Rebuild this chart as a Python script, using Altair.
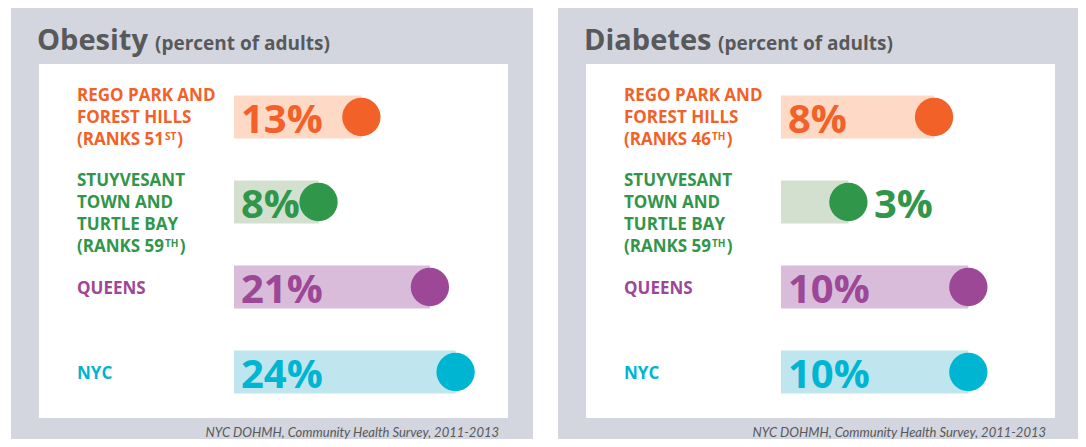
import altair as alt
import pandas as pd

# ---------------- data ----------------
categories = ["rego", "stuy", "queens", "nyc"]
label_lines = {
    "rego": ["REGO PARK AND", "FOREST HILLS"],
    "stuy": ["STUYVESANT", "TOWN AND", "TURTLE BAY"],
    "queens": ["QUEENS"],
    "nyc": ["NYC"],
}
panel_titles = ["Obesity", "Diabetes"]
panel_subtitle = "(percent of adults)"
obesity_values = [13, 8, 21, 24]
diabetes_values = [8, 3, 10, 10]
obesity_ranks = {"rego": 51, "stuy": 59}
diabetes_ranks = {"rego": 46, "stuy": 59}
source_text = "NYC DOHMH, Community Health Survey, 2011-2013"
x_domains = {"Obesity": [0, 30], "Diabetes": [0, 15]}

# ---------------- style ----------------
FONT = "Open Sans"
SRC_FONT = "Lato, Open Sans"
strong = ["#f26128", "#30964a", "#9d4797", "#00b5d2"]
light = ["#fdd9c6", "#d3e0cf", "#d8bcd9", "#bfe5ee"]
GRAY = "#d3d6de"
TITLE_C = "#58595b"

PANEL_H = 431
PANEL_W = [522, 520]
BAR_START, BAR_END = 223, 480
BAR_H = 43
CIRCLE_SIZE = 1470
CIRCLE_R = 21.6
END_OFF = 16
LABEL_X = 66
LH = 21.8
LAB_FS = 17
BIG_FS = 40
MID = 0.3 * LAB_FS          # Vega's 'middle' baseline shift
FIRST_BASE = -BAR_H / 2 + 6  # first baseline of multi-line labels (top aligned)

# Open Sans Bold advance widths (em)
W = {"(": .317, ")": .317, "R": .677, "A": .722, "N": .799, "K": .669, "S": .56,
     " ": .26, "T": .58, "H": .82, "D": .757, "%": .9}


def tw(s, fs):
    return sum(W.get(c, .572) for c in s) * fs


def suffix(n):
    if 10 <= n % 100 <= 20:
        return "TH"
    return {1: "ST", 2: "ND", 3: "RD"}.get(n % 10, "TH")


def panel(title, values, ranks, title_w, width):
    dmax = x_domains[title][1]
    k = (BAR_END - BAR_START) / dmax
    rows = []
    for c, v in zip(categories, values):
        lines = list(label_lines[c])
        sup = ""
        if c in ranks:
            lines.append("(RANKS " + str(ranks[c]))
            sup = suffix(ranks[c])
        pct = f"{v}%"
        circle_left = v * k + END_OFF - CIRCLE_R
        place = "inside" if circle_left >= 6 + tw(pct, BIG_FS) - 4 else "outside"
        rows.append(dict(cat=c, value=v, pct=pct, label="\n".join(lines),
                         n=len(lines), sup=sup, last=lines[-1], place=place))
    df = pd.DataFrame(rows)
    base = alt.Chart(df).transform_calculate(zero="0")
    xs = alt.Scale(domain=x_domains[title], range=[BAR_START, BAR_END])
    X = alt.X("value:Q", scale=xs, axis=None)
    X0 = alt.X("zero:Q", scale=xs, axis=None)
    Y = alt.Y("cat:N", axis=None,
              scale=alt.Scale(type="point", domain=categories, range=[109, 364], padding=0))
    C = alt.Color("cat:N", scale=alt.Scale(domain=categories, range=strong), legend=None)
    F = alt.Fill("cat:N", scale=alt.Scale(domain=categories, range=light), legend=None)

    one = alt.Chart(pd.DataFrame({"a": [1]}))
    white = one.mark_rect(color="white").encode(
        x=alt.value(28), x2=alt.value(497), y=alt.value(56), y2=alt.value(410))
    bars = base.mark_bar(size=BAR_H, xOffset=END_OFF).encode(
        x=X, x2=alt.X2("zero:Q"), y=Y, fill=F)
    circles = base.mark_circle(size=CIRCLE_SIZE, opacity=1, xOffset=END_OFF).encode(
        x=X, y=Y, color=C)
    pct_in = base.transform_filter("datum.place == 'inside'").mark_text(
        align="left", baseline="middle", fontSize=BIG_FS, fontWeight="bold",
        font=FONT, dx=7, dy=4).encode(x=X0, y=Y, text="pct:N", color=C)
    pct_out = base.transform_filter("datum.place == 'outside'").mark_text(
        align="left", baseline="middle", fontSize=BIG_FS, fontWeight="bold",
        font=FONT, dx=END_OFF + CIRCLE_R + 4, dy=4).encode(
        x=X, y=Y, text="pct:N", color=C)

    layers = [white, bars, circles, pct_in, pct_out]
    # category labels: single lines centred on the bar, blocks top-aligned
    for n in sorted(set(r["n"] for r in rows)):
        dy = 2 if n == 1 else FIRST_BASE - MID
        layers.append(base.transform_filter(f"datum.n == {n}").mark_text(
            align="left", baseline="middle", lineBreak="\n", lineHeight=LH,
            fontSize=LAB_FS, fontWeight="bold", font=FONT, dy=dy).encode(
            x=alt.value(LABEL_X), y=Y, text="label:N", color=C))
    # ordinal superscripts and closing parenthesis
    for r in rows:
        if not r["sup"]:
            continue
        last_off = FIRST_BASE + (r["n"] - 1) * LH
        dx_sup = tw(r["last"], LAB_FS) + 0.5
        dx_par = dx_sup + tw(r["sup"], 10) + 0.8
        sub = base.transform_filter(f"datum.cat == '{r['cat']}'")
        layers.append(sub.mark_text(
            align="left", baseline="alphabetic", fontSize=10, fontWeight="bold",
            font=FONT, dx=dx_sup, dy=last_off - 5).encode(
            x=alt.value(LABEL_X), y=Y, text="sup:N", color=C))
        layers.append(sub.mark_text(
            align="left", baseline="alphabetic", fontSize=LAB_FS, fontWeight="bold",
            font=FONT, dx=dx_par, dy=last_off, text=")").encode(
            x=alt.value(LABEL_X), y=Y, color=C))

    ttl = one.mark_text(align="left", baseline="alphabetic", fontSize=29,
                        fontWeight="bold", font=FONT, color=TITLE_C, text=title).encode(
        x=alt.value(26), y=alt.value(42))
    sub_t = one.mark_text(align="left", baseline="alphabetic", fontSize=19,
                          fontWeight="bold", font=FONT, color=TITLE_C,
                          text=panel_subtitle).encode(
        x=alt.value(26 + title_w + 11), y=alt.value(42))
    src = one.mark_text(align="right", baseline="alphabetic", fontSize=13,
                        fontStyle="italic", font=SRC_FONT, color=TITLE_C,
                        text=source_text).encode(
        x=alt.value(488), y=alt.value(429))
    layers += [ttl, sub_t, src]
    return alt.layer(*layers).properties(width=width, height=PANEL_H)


left = panel(panel_titles[0], obesity_values, obesity_ranks, 107, PANEL_W[0])
right = panel(panel_titles[1], diabetes_values, diabetes_ranks, 123, PANEL_W[1])

chart = alt.hconcat(left, right, spacing=25).properties(
    padding={"left": 3, "top": 0, "right": 0, "bottom": 0},
    background="white",
).configure_view(fill=GRAY, strokeWidth=0)

chart.save("out.html", embed_options={"renderer": "svg", "actions": False})
